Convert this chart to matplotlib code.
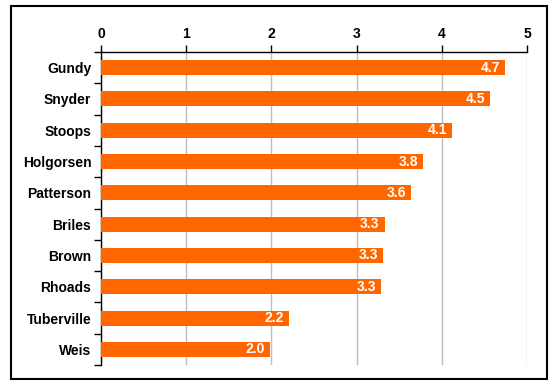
import matplotlib.pyplot as plt
from matplotlib.patches import Rectangle
import numpy as np

plt.rcParams['font.family'] = ['Liberation Sans', 'DejaVu Sans']

coaches = ["Gundy", "Snyder", "Stoops", "Holgorsen", "Patterson",
           "Briles", "Brown", "Rhoads", "Tuberville", "Weis"]
values = [4.74, 4.57, 4.12, 3.78, 3.64, 3.33, 3.31, 3.29, 2.21, 1.98]
labels = ["4.7", "4.5", "4.1", "3.8", "3.6", "3.3", "3.3", "3.3", "2.2", "2.0"]

fig = plt.figure(figsize=(5.57, 3.89), dpi=100)
ax = fig.add_axes([0.1813, 0.0617, 0.7650, 0.8046])

y = np.arange(len(coaches))
ax.barh(y, values, height=0.48, color="#FF6600", zorder=3)

for yi, v, lab in zip(y, values, labels):
    ax.text(v - 0.06, yi, lab, color="white", fontweight="bold", fontsize=10,
            ha="right", va="center", zorder=4)

ax.set_xlim(0, 5)
ax.set_ylim(len(coaches) - 0.5, -0.5)
ax.xaxis.tick_top()
ax.set_xticks(range(6))
ax.tick_params(axis="x", direction="out", length=5, width=1, pad=3,
               labelsize=10)
for t in ax.get_xticklabels():
    t.set_fontweight("bold")
ax.grid(axis="x", color="#BFBFBF", linewidth=1, zorder=0)

ax.set_yticks(y)
ax.set_yticklabels(coaches, fontweight="bold", fontsize=10)
ax.set_yticks(np.arange(-0.5, len(coaches)), minor=True)
ax.tick_params(axis="y", which="major", length=0, pad=7)
ax.tick_params(axis="y", which="minor", length=5, width=1, direction="out")

ax.spines["right"].set_visible(False)
ax.spines["bottom"].set_visible(False)
ax.spines["top"].set_linewidth(1)
ax.spines["left"].set_linewidth(1)

fig.patches.append(Rectangle((0.0197, 0.0257), 0.962, 0.959, transform=fig.transFigure,
                             fill=False, edgecolor="black", linewidth=1.5))

fig.savefig("out.png", dpi=100)
